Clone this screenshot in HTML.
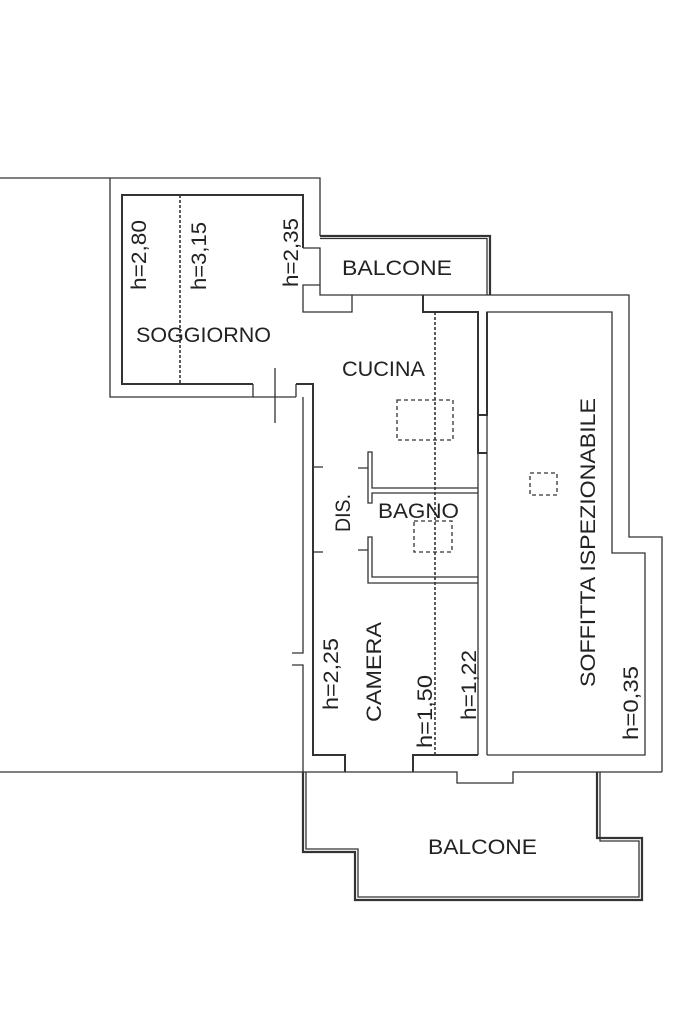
<!DOCTYPE html>
<html><head><meta charset="utf-8"><style>
html,body{margin:0;padding:0;background:#fff;}
svg{display:block;}
text{font-family:"Liberation Sans",sans-serif;font-size:21px;fill:#222;}
</style></head><body>
<svg width="683" height="1023" viewBox="0 0 683 1023" xmlns="http://www.w3.org/2000/svg">
<g fill="none" stroke="#333" stroke-width="1.3">
<polyline points="0,178 320,178 320,236"/>
<polyline points="110,178 110,397 253,397 253,384"/>
<line x1="0" y1="772" x2="303" y2="772"/>
<polyline points="303,248 303,195 122,195 122,384 253,384" stroke-width="2"/>
<polyline points="303,248 320,248 320,295 352,295 352,312 303,312 303,285 320,285"/>
<polyline points="320,236 490,236 490,295" stroke-width="2.2"/>
<line x1="320" y1="238.5" x2="487" y2="238.5"/>
<line x1="487" y1="238" x2="487" y2="295"/>
<line x1="352" y1="295" x2="423" y2="295"/>
<polyline points="423,295 629,295 629,537 662,537 662,772"/>
<polyline points="423,295 423,312 478,312 478,453 487,453" stroke-width="2"/>
<polyline points="487,755 487,312 612,312 612,553 645,553 645,755 487,755" stroke-width="1.3"/>
<polyline points="487,312 487,415 478,415" stroke-width="2"/>
<polyline points="296,384 313,384 313,755 345,755 345,772" stroke-width="2"/>
<polyline points="296,384 296,397"/>
<polyline points="303,397 303,653 292,653"/>
<polyline points="292,665 303,665 303,772 457,772 457,783 513,783 513,772 662,772"/>
<line x1="275" y1="368" x2="275" y2="423"/>
<line x1="253" y1="397" x2="296" y2="397"/>
<polyline points="313,467 323,467"/><polyline points="313,552 323,552"/>
<polyline points="358,468 368,468 368,452 372,452 372,488 478,488"/>
<polyline points="368,468 368,503 372,503 372,493 478,493"/>
<polyline points="358,550 368,550 368,537 372,537 372,577 478,577"/>
<polyline points="368,550 368,583 478,583"/>
<line x1="478" y1="453" x2="478" y2="755" stroke-width="1.3"/>
<polyline points="413,772 413,755 478,755" stroke-width="2"/>
<polyline points="303,772 303,852 355,852 355,900 642,900 642,838 597,838 597,772" stroke-width="2.2"/>
<polyline points="306,772 306,849 358,849 358,897 639,897 639,841 600,841 600,772"/>
<line x1="180" y1="195" x2="180" y2="384" stroke-dasharray="3,2" stroke-width="1.6"/>
<line x1="435" y1="312" x2="435" y2="755" stroke-dasharray="3,2" stroke-width="1.6"/>
<rect x="397" y="400" width="56" height="40" stroke-dasharray="4,3"/>
<rect x="414" y="521" width="38" height="31" stroke-dasharray="4,3"/>
<rect x="530" y="473" width="27" height="22" stroke-dasharray="4,3"/>
</g>
<text x="342" y="275" textLength="110" lengthAdjust="spacingAndGlyphs">BALCONE</text>
<text x="136" y="342" textLength="135" lengthAdjust="spacingAndGlyphs">SOGGIORNO</text>
<text x="342" y="376" textLength="83" lengthAdjust="spacingAndGlyphs">CUCINA</text>
<text x="378" y="518" textLength="81" lengthAdjust="spacingAndGlyphs">BAGNO</text>
<text x="428" y="854" textLength="109" lengthAdjust="spacingAndGlyphs">BALCONE</text>
<text transform="translate(146,290) rotate(-90)" textLength="70" lengthAdjust="spacingAndGlyphs">h=2,80</text>
<text transform="translate(206,290) rotate(-90)" textLength="68" lengthAdjust="spacingAndGlyphs">h=3,15</text>
<text transform="translate(298,287) rotate(-90)" textLength="69" lengthAdjust="spacingAndGlyphs">h=2,35</text>
<text transform="translate(350,532) rotate(-90)" textLength="38" lengthAdjust="spacingAndGlyphs">DIS.</text>
<text transform="translate(338,710) rotate(-90)" textLength="72" lengthAdjust="spacingAndGlyphs">h=2,25</text>
<text transform="translate(381,722) rotate(-90)" textLength="100" lengthAdjust="spacingAndGlyphs">CAMERA</text>
<text transform="translate(432,748) rotate(-90)" textLength="73" lengthAdjust="spacingAndGlyphs">h=1,50</text>
<text transform="translate(476,720) rotate(-90)" textLength="70" lengthAdjust="spacingAndGlyphs">h=1,22</text>
<text transform="translate(595,687) rotate(-90)" textLength="289" lengthAdjust="spacingAndGlyphs">SOFFITTA ISPEZIONABILE</text>
<text transform="translate(638,740) rotate(-90)" textLength="74" lengthAdjust="spacingAndGlyphs">h=0,35</text>
</svg>
</body></html>
